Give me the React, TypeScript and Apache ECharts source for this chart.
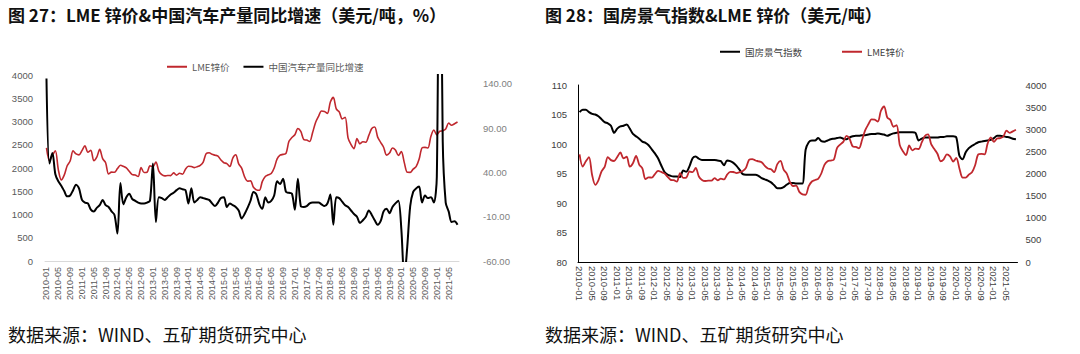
import React, { useEffect, useRef } from "react";
import * as echarts from "echarts";

// ---------- categories ----------
const months: string[] = [];
for (let y = 2010; y <= 2021; y++) {
  for (let m = 1; m <= 12; m++) {
    if (y === 2021 && m > 8) break;
    months.push(`${y}-${m < 10 ? "0" + m : m}`);
  }
}

// ---------- series values ----------
// LME zinc price (USD/t), monthly 2010-01 .. 2021-08
const zincPrice = [
  2433, 2158, 2275, 2372, 1967, 1745, 1847, 2048, 2150, 2370, 2302, 2283,
  2373, 2475, 2340, 2379, 2155, 2232, 2400, 2201, 2114, 1873, 1911, 1908,
  1987, 2058, 2036, 2003, 1930, 1857, 1848, 1816, 2010, 1902, 1908, 2045,
  2031, 2128, 1933, 1855, 1831, 1838, 1837, 1896, 1847, 1886, 1865, 1975,
  2037, 2034, 2009, 2029, 2059, 2128, 2310, 2327, 2294, 2276, 2255, 2172,
  2114, 2095, 2032, 2213, 2284, 2088, 1996, 1810, 1717, 1724, 1585, 1529,
  1520, 1713, 1819, 1853, 1880, 2000, 2195, 2276, 2293, 2314, 2574, 2655,
  2715, 2850, 2785, 2612, 2600, 2570, 2763, 2980, 3112, 3225, 3216, 3174,
  3418, 3519, 3271, 3207, 3057, 3090, 2641, 2503, 2417, 2634, 2521, 2563,
  2554, 2701, 2848, 2883, 2664, 2553, 2447, 2277, 2321, 2430, 2386, 2270,
  2353, 2115, 1908, 1906, 1976, 2028, 2186, 2433, 2444, 2431, 2682, 2816,
  2713, 2791, 2800, 2837, 2968, 2919, 2953, 2990,
];

// China auto output YoY (%)
const autoOutputYoY = [
  146, 50, 62, 38, 30, 25, 19, 13, 14, 20, 26, 22,
  9, 6, 5, -2, -4, 0, 3, 9, 3, 1, -4, -8,
  -29, 28, 4, 12, 16, 10, 8, 6, 5, 5, 6, 8,
  50, -16, 12, 11, 9, 12, 15, 17, 20, 22, 21, 20,
  5, 22, 6, 9, 12, 11, 10, 9, 5, 2, 6, 11,
  12, 1, 5, 3, 1, -3, -12, -7, 0, 8, 18, 15,
  4, -1, 12, 6, 8, 14, 30, 27, 33, 18, 17, 16,
  -2, 33, 2, 1, 2, 5, 6, 6, 6, 4, 2, 5,
  15, -19, 12, 11, 7, 3, 1, -3, -7, -10, -17, -14,
  -10, -3, -8, -14, -19, -15, -4, -1, -6, 1, 5, 8,
  -24, -80, -44, 2, 18, 22, 24, 6, 14, 11, 12, 6,
  35, 420, 75, 6, -4, -16, -15, -19,
];

// National real estate climate index
const realEstateIndex = [
  105.4, 105.8, 105.8, 105.4, 105.1, 105.0, 104.7, 104.2, 103.7, 103.5, 103.1, 101.9,
  102.6, 103.0, 103.1, 103.3, 102.6, 101.7, 101.3, 100.9, 100.4, 100.2, 99.8, 99.1,
  98.4, 97.6, 96.4, 95.3, 94.8, 94.6, 94.5, 94.5, 94.4, 95.5, 95.3, 96.2,
  97.6, 97.9, 97.5, 97.3, 97.3, 97.3, 97.3, 97.3, 97.2, 97.1, 96.4, 97.2,
  97.1, 96.8, 96.3, 95.6, 94.9, 94.8, 94.8, 94.8, 94.8, 94.6, 94.2, 94.0,
  93.8, 93.5, 93.0, 92.5, 92.5, 92.7, 93.1, 93.4, 93.4, 93.3, 93.3, 93.3,
  99.0, 100.3, 100.6, 100.6, 101.0, 100.5, 100.4, 100.6, 100.8, 100.9, 101.0, 101.1,
  100.9, 100.8, 101.1, 101.3, 101.4, 101.4, 101.5, 101.5, 101.6, 101.7, 101.7, 101.8,
  101.7, 101.6, 101.4, 101.6, 101.8, 101.9, 102.0, 102.0, 102.0, 102.0, 102.0, 101.9,
  100.6, 100.9, 101.1, 101.1, 101.1, 101.1, 101.1, 101.2, 101.2, 101.3, 101.3, 101.3,
  101.1, 98.0, 97.4, 98.6, 99.3, 99.7, 100.0, 100.3, 100.4, 100.5, 100.6, 100.7,
  101.0, 101.4, 101.4, 101.3, 101.2, 101.1, 100.9, 100.8,
];

// ---------- texts ----------
const title1 = "图 27：LME 锌价&中国汽车产量同比增速（美元/吨，%）";
const title2 = "图 28：国房景气指数&LME 锌价（美元/吨）";
const source = "数据来源：WIND、五矿期货研究中心";
const legend1 = ["LME锌价", "中国汽车产量同比增速"];
const legend2 = ["国房景气指数", "LME锌价"];

const RED = "#C0282E";
const BLACK = "#000000";
const CJK = '"Noto Sans CJK SC", sans-serif';
const NUM = '"Liberation Sans", "Noto Sans CJK SC", sans-serif';

const plain = (v: number) => String(v);

export default function App() {
  const ref = useRef<HTMLDivElement>(null);

  useEffect(() => {
    if (!ref.current) return;
    const chart = echarts.init(ref.current, undefined, { renderer: "svg" });
    const option: any = {
      animation: false,
      backgroundColor: "#ffffff",
      graphic: [
        {
          type: "text",
          x: 8,
          y: 14.5,
          style: { text: title1, fontSize: 17, fontWeight: "bold", fontFamily: CJK, fill: "#111", verticalAlign: "middle" },
        },
        {
          type: "text",
          x: 545,
          y: 14.5,
          style: { text: title2, fontSize: 17, fontWeight: "bold", fontFamily: CJK, fill: "#111", verticalAlign: "middle" },
        },
        {
          type: "text",
          x: 8,
          y: 334,
          style: { text: source, fontSize: 18, fontFamily: CJK, fill: "#111", verticalAlign: "middle" },
        },
        {
          type: "text",
          x: 545,
          y: 334,
          style: { text: source, fontSize: 18, fontFamily: CJK, fill: "#111", verticalAlign: "middle" },
        },
      ],
      legend: [
        {
          left: 162,
          top: 57,
          icon: "rect",
          itemWidth: 20,
          itemHeight: 2,
          itemGap: 14,
          data: legend1,
          textStyle: { fontSize: 9.5, color: "#595959", fontFamily: CJK },
        },
        {
          left: 715,
          top: 42,
          icon: "rect",
          itemWidth: 20,
          itemHeight: 2,
          itemGap: 40,
          data: legend2,
          textStyle: { fontSize: 9.5, color: "#404040", fontFamily: CJK },
        },
      ],
      grid: [
        { left: 45, top: 75, width: 414, height: 186, containLabel: false },
        { left: 578, top: 85, width: 439.5, height: 177, containLabel: false },
      ],
      xAxis: [
        {
          type: "category",
          gridIndex: 0,
          data: months,
          boundaryGap: true,
          axisLine: { lineStyle: { color: "#d9d9d9", width: 1 } },
          axisTick: { interval: 3, alignWithLabel: true, length: 3, lineStyle: { color: "#d9d9d9" } },
          axisLabel: { interval: 3, rotate: 90, fontSize: 9, color: "#595959", margin: 6, fontFamily: NUM },
          splitLine: { show: false },
        },
        {
          type: "category",
          gridIndex: 1,
          data: months,
          boundaryGap: true,
          axisLine: { lineStyle: { color: "#000", width: 1 } },
          axisTick: { interval: 3, alignWithLabel: true, length: 3, lineStyle: { color: "#000" } },
          axisLabel: { interval: 3, rotate: -90, fontSize: 9.5, color: "#404040", margin: 4, fontFamily: NUM },
          splitLine: { show: false },
        },
      ],
      yAxis: [
        {
          type: "value",
          gridIndex: 0,
          min: 0,
          max: 4000,
          interval: 500,
          axisLine: { show: false },
          axisTick: { show: false },
          splitLine: { show: false },
          axisLabel: { fontSize: 9.5, color: "#595959", margin: 12, fontFamily: NUM, formatter: plain },
        },
        {
          type: "value",
          gridIndex: 0,
          position: "right",
          min: -60,
          max: 150,
          interval: 50,
          axisLine: { show: false },
          axisTick: { show: false },
          splitLine: { show: false },
          axisLabel: {
            fontSize: 9.5,
            color: "#808080",
            margin: 24,
            fontFamily: NUM,
            showMaxLabel: false,
            formatter: (v: number) => v.toFixed(2),
          },
        },
        {
          type: "value",
          gridIndex: 1,
          min: 80,
          max: 110,
          interval: 5,
          axisLine: { show: true, lineStyle: { color: "#000", width: 1 } },
          axisTick: { show: false },
          splitLine: { show: false },
          axisLabel: { fontSize: 9.5, color: "#404040", margin: 11, fontFamily: NUM, formatter: plain },
        },
        {
          type: "value",
          gridIndex: 1,
          position: "right",
          min: 0,
          max: 4000,
          interval: 500,
          axisLine: { show: false },
          axisTick: { show: false },
          splitLine: { show: false },
          axisLabel: { fontSize: 9.5, color: "#404040", margin: 8, fontFamily: NUM, formatter: plain },
        },
      ],
      series: [
        {
          name: "LME锌价",
          type: "line",
          xAxisIndex: 0,
          yAxisIndex: 0,
          data: zincPrice,
          showSymbol: false,
          symbol: "none",
          smooth: 0.3,
          color: RED,
          lineStyle: { color: RED, width: 1.6 },
        },
        {
          name: "中国汽车产量同比增速",
          type: "line",
          xAxisIndex: 0,
          yAxisIndex: 1,
          data: autoOutputYoY,
          showSymbol: false,
          symbol: "none",
          smooth: 0.3,
          clip: true,
          color: BLACK,
          lineStyle: { color: BLACK, width: 2 },
        },
        {
          name: "国房景气指数",
          type: "line",
          xAxisIndex: 1,
          yAxisIndex: 2,
          data: realEstateIndex,
          showSymbol: false,
          symbol: "none",
          smooth: 0.3,
          color: BLACK,
          lineStyle: { color: BLACK, width: 2 },
        },
        {
          name: "LME锌价",
          type: "line",
          xAxisIndex: 1,
          yAxisIndex: 3,
          data: zincPrice,
          showSymbol: false,
          symbol: "none",
          smooth: 0.3,
          color: RED,
          lineStyle: { color: RED, width: 1.8 },
        },
      ],
    };
    chart.setOption(option);
    return () => chart.dispose();
  }, []);

  return (
    <div
      ref={ref}
      style={{ position: "absolute", left: 0, top: 0, width: 1080, height: 354, background: "#fff" }}
    />
  );
}
